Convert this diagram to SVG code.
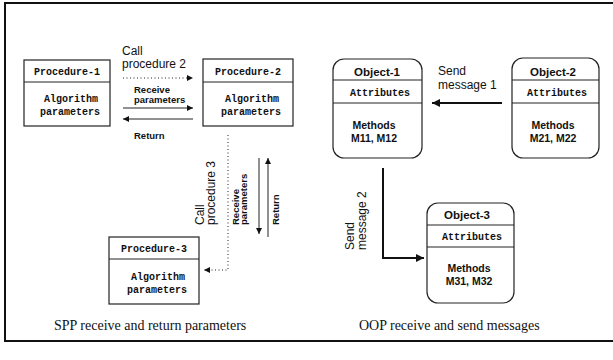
<svg xmlns="http://www.w3.org/2000/svg" width="613" height="360" viewBox="0 0 613 360">
<style>
.box{fill:#fff;stroke:#222;stroke-width:1.2}
.div{stroke:#222;stroke-width:1}
.mono{font-family:"Liberation Mono","DejaVu Sans Mono",monospace;font-weight:bold;font-size:10px;fill:#111}
.lbl{font-family:"Liberation Sans",Arial,sans-serif;font-size:12px;fill:#111}
.sm{font-family:"Liberation Sans",Arial,sans-serif;font-size:9.5px;font-weight:bold;fill:#111}
.obj{font-family:"Liberation Sans",Arial,sans-serif;font-size:11.5px;font-weight:bold;fill:#111}
.meth{font-family:"Liberation Sans",Arial,sans-serif;font-size:10.5px;font-weight:bold;fill:#111}
.cap{font-family:"Liberation Serif","Times New Roman",serif;font-size:14px;fill:#111}
.thin{fill:none;stroke:#222;stroke-width:1}
.dot{fill:none;stroke:#222;stroke-width:1;stroke-dasharray:1 2.5}
.thick{fill:none;stroke:#111;stroke-width:2}
</style>
<defs>
<marker id="ah" viewBox="0 0 10 10" refX="10" refY="5" markerWidth="7" markerHeight="6" markerUnits="userSpaceOnUse" orient="auto"><path d="M0,0 L10,5 L0,10 z" fill="#111"/></marker>
<marker id="ahb" viewBox="0 0 10 10" refX="10" refY="5" markerWidth="9" markerHeight="8" markerUnits="userSpaceOnUse" orient="auto"><path d="M0,0 L10,5 L0,10 z" fill="#111"/></marker>
</defs>
<rect width="613" height="360" fill="#fff"/>
<path d="M613,3 H5 V341 H613" fill="none" stroke="#111" stroke-width="2"/>

<g id="procedure-1">
<rect class="box" x="24" y="60" width="86" height="66"/>
<line class="div" x1="24" y1="82" x2="110" y2="82"/>
<text class="mono" x="67" y="75" text-anchor="middle">Procedure-1</text>
<text class="mono" x="71" y="102" text-anchor="middle">Algorithm</text>
<text class="mono" x="70" y="115" text-anchor="middle">parameters</text>
</g>
<g id="procedure-2">
<rect class="box" x="203" y="59" width="90" height="67"/>
<line class="div" x1="203" y1="82" x2="293" y2="82"/>
<text class="mono" x="248" y="75" text-anchor="middle">Procedure-2</text>
<text class="mono" x="252" y="102" text-anchor="middle">Algorithm</text>
<text class="mono" x="251" y="115" text-anchor="middle">parameters</text>
</g>
<g id="procedure-3">
<rect class="box" x="109" y="237" width="90" height="67"/>
<line class="div" x1="109" y1="259" x2="199" y2="259"/>
<text class="mono" x="154" y="252" text-anchor="middle">Procedure-3</text>
<text class="mono" x="158" y="280" text-anchor="middle">Algorithm</text>
<text class="mono" x="157" y="293" text-anchor="middle">parameters</text>
</g>

<g id="object-1">
<rect class="box" x="333" y="59" width="89" height="99" rx="11"/>
<line class="div" x1="333" y1="80" x2="422" y2="80"/>
<line class="div" x1="333" y1="103" x2="422" y2="103"/>
<text class="obj" x="377" y="76" text-anchor="middle">Object-1</text>
<text class="mono" x="380" y="96" text-anchor="middle">Attributes</text>
<text class="meth" x="374" y="129" text-anchor="middle">Methods</text>
<text class="meth" x="374" y="142" text-anchor="middle">M11, M12</text>
</g>
<g id="object-2">
<rect class="box" x="512" y="58" width="87" height="100" rx="11"/>
<line class="div" x1="512" y1="80" x2="599" y2="80"/>
<line class="div" x1="512" y1="103" x2="599" y2="103"/>
<text class="obj" x="553" y="76" text-anchor="middle">Object-2</text>
<text class="mono" x="557" y="96" text-anchor="middle">Attributes</text>
<text class="meth" x="553" y="129" text-anchor="middle">Methods</text>
<text class="meth" x="553" y="142" text-anchor="middle">M21, M22</text>
</g>
<g id="object-3">
<rect class="box" x="427" y="203" width="87" height="100" rx="11"/>
<line class="div" x1="427" y1="225" x2="514" y2="225"/>
<line class="div" x1="427" y1="247" x2="514" y2="247"/>
<text class="obj" x="467" y="219" text-anchor="middle">Object-3</text>
<text class="mono" x="472" y="240" text-anchor="middle">Attributes</text>
<text class="meth" x="469" y="272" text-anchor="middle">Methods</text>
<text class="meth" x="469" y="285" text-anchor="middle">M31, M32</text>
</g>

<g id="connectors">
<path class="dot" d="M123,78 H193" marker-end="url(#ah)"/>
<path class="thin" d="M123,108 H193" marker-end="url(#ah)"/>
<path class="thin" d="M193,119 H123" marker-end="url(#ah)"/>
<path class="dot" d="M228,135 V270 H204" marker-end="url(#ah)"/>
<path class="thin" d="M259,158 V234" marker-end="url(#ah)"/>
<path class="thin" d="M268,237 V158" marker-end="url(#ah)"/>
<path class="thick" d="M502,103 H432" marker-end="url(#ahb)"/>
<path class="thick" d="M383,168 V258 H424" marker-end="url(#ahb)"/>
</g>

<g id="labels">
<text class="lbl" x="122" y="55">Call</text>
<text class="lbl" x="122" y="68">procedure 2</text>
<text class="sm" x="134" y="93">Receive</text>
<text class="sm" x="134" y="103">parameters</text>
<text class="sm" x="134" y="139">Return</text>
<text class="lbl" transform="translate(204,225) rotate(-90)">Call</text>
<text class="lbl" transform="translate(215,225) rotate(-90)">procedure 3</text>
<text class="sm" transform="translate(239,225) rotate(-90)">Receive</text>
<text class="sm" transform="translate(247,225) rotate(-90)">parameters</text>
<text class="sm" transform="translate(279,225) rotate(-90)">Return</text>
<text class="lbl" x="438" y="75">Send</text>
<text class="lbl" x="438" y="89">message 1</text>
<text class="lbl" transform="translate(354,250) rotate(-90)">Send</text>
<text class="lbl" transform="translate(366,250) rotate(-90)">message 2</text>
<text class="cap" x="54" y="330">SPP receive and return parameters</text>
<text class="cap" x="359" y="330">OOP receive and send messages</text>
</g>
</svg>
